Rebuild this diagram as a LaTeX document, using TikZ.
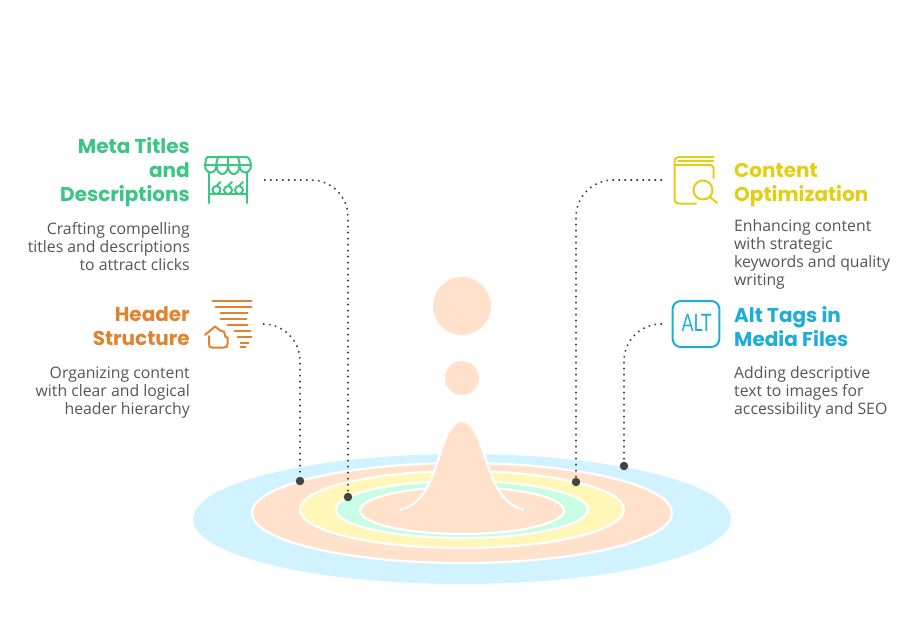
\documentclass[tikz,border=0pt]{standalone}
\usepackage{fontspec}
\setmainfont{Open Sans}
\newfontfamily\altfont{Lato}
\newfontfamily\titlefont{Poppins}[BoldFont={Poppins Bold}]
\definecolor{cgreen}{HTML}{3CC583}
\definecolor{corange}{HTML}{E0832E}
\definecolor{cyellow}{HTML}{E2CF13}
\definecolor{cblue}{HTML}{1EACDB}
\definecolor{cbody}{HTML}{555555}
\definecolor{cdot}{HTML}{444444}
\definecolor{rblue}{HTML}{D1F3FF}
\definecolor{rpeach}{HTML}{FFE1CC}
\definecolor{ryellow}{HTML}{FFF7B8}
\definecolor{rmint}{HTML}{C9FCE4}
\tikzset{
  ttl/.style={font=\titlefont\bfseries\fontsize{20}{24}\selectfont,inner sep=0pt},
  bodytxt/.style={font=\fontsize{15.8}{18}\selectfont,text=cbody,inner sep=0pt},
  ring/.style={draw=white,line width=2.2pt},
  dotend/.style={circle,fill=cdot,minimum size=8.5pt,inner sep=0pt},
  conn/.style={draw=cdot,line width=1.6pt,dash pattern=on 1.6pt off 4.4pt},
  icon/.style={line width=2pt,line cap=round,line join=round,fill=none},
}
\begin{document}
\begin{tikzpicture}[x=1pt,y=-1pt]
\useasboundingbox (0,0) rectangle (924,634);
% rings
\fill[rblue] (462,519) ellipse [x radius=269,y radius=65];
\filldraw[ring,fill=rpeach] (462,513) ellipse [x radius=210,y radius=50];
\filldraw[ring,fill=ryellow] (462,509.5) ellipse [x radius=162,y radius=38.5];
\filldraw[ring,fill=rmint] (462,509.5) ellipse [x radius=126,y radius=28.5];
\filldraw[ring,fill=rpeach] (462,510.5) ellipse [x radius=102,y radius=23.5];
% drop
\filldraw[ring,fill=rpeach] (400,510) .. controls (426,503) and (432,478) .. (442,448)
  .. controls (449,428) and (455,421) .. (462,421)
  .. controls (469,421) and (475,428) .. (482,448)
  .. controls (492,478) and (498,503) .. (524,510);
\fill[rpeach] (403,509) -- (521,509) -- (521,516) -- (403,516) -- cycle;
\node[circle,fill=rpeach,minimum size=58pt,inner sep=0pt] (big) at (462,306) {};
\node[circle,fill=rpeach,minimum size=34pt,inner sep=0pt] (small) at (462,378) {};
% connectors
\node[dotend] (d1) at (300,481) {};
\node[dotend] (d2) at (348,497) {};
\node[dotend] (d3) at (576,482) {};
\node[dotend] (d4) at (624,466) {};
\coordinate (s1) at (263,324);
\coordinate (s2) at (264,180);
\coordinate (s3) at (662,180);
\coordinate (s4) at (662,324);
\draw[conn,rounded corners=37pt] (s1) -| (d1);
\draw[conn,rounded corners=37pt] (s2) -| (d2);
\draw[conn,rounded corners=37pt] (s3) -| (d3);
\draw[conn,rounded corners=37pt] (s4) -| (d4);
% texts
\node[ttl,text=cgreen,align=right,anchor=north east] (t1) at (190,137.5) {Meta Titles\\and\\Descriptions};
\node[bodytxt,align=right,anchor=north east] (b1) at (190,222.5) {Crafting compelling\\titles and descriptions\\to attract clicks};
\node[ttl,text=corange,align=right,anchor=north east] (t2) at (190,306.5) {Header\\Structure};
\node[bodytxt,align=right,anchor=north east] (b2) at (190,367) {Organizing content\\with clear and logical\\header hierarchy};
\node[ttl,text=cyellow,align=left,anchor=north west] (t3) at (734,163.5) {Content\\Optimization};
\node[bodytxt,align=left,anchor=north west] (b3) at (734,219.5) {Enhancing content\\with strategic\\keywords and quality\\writing};
\node[ttl,text=cblue,align=left,anchor=north west] (t4) at (734,306) {Alt Tags in\\Media Files};
\node[bodytxt,align=left,anchor=north west] (b4) at (734,366.5) {Adding descriptive\\text to images for\\accessibility and SEO};
% market icon
\begin{scope}[icon,draw=cgreen]
\draw (208,157) -- (246,157) .. controls (249,157) and (250,160) .. (251,165) -- (205,165) .. controls (206,160) and (206,157) .. (208,157);
\draw (218,157) -- (216,165) (228,157) -- (228,165) (238,157) -- (240,165);
\draw (205,165) .. controls (205,175) and (216.5,175) .. (216.5,165)
  .. controls (216.5,177) and (228,177) .. (228,165)
  .. controls (228,177) and (239.5,177) .. (239.5,165)
  .. controls (239.5,175) and (251,175) .. (251,165);
\draw (209,172) -- (209,203) (247,172) -- (247,203) (209,194) -- (247,194);
\foreach \x in {216.5,228,239}{
  \draw (\x,190) circle [radius=4];
  \draw (\x,186) -- (\x+4,182);
}
\end{scope}
% header icon
\begin{scope}[icon,draw=corange]
\draw (212.5,300.7) -- (251.5,300.7) (215.5,307) -- (251.5,307) (220.5,313) -- (247.5,313) (220.5,319) -- (246.5,319)
 (227.5,325) -- (247.5,325) (234.5,331) -- (250.5,331) (237.5,337) -- (251.5,337) (240.5,343) -- (248.5,343) (240.5,347) -- (245.5,347);
\draw (205,335) -- (215,326.5) -- (221,331) -- (224,331.5) -- (225.5,337) -- (227.5,337.5) -- (227.5,344) .. controls (227.5,347) and (226,347.5) .. (224,347.5) -- (212,347.5) .. controls (210,347.5) and (209,347) .. (209,344) -- (209,336);
\end{scope}
% book icon
\begin{scope}[icon,draw=cyellow]
\draw (713.5,157) -- (678.5,157) .. controls (676,157) and (674.5,159) .. (674.5,161) -- (674.5,199) .. controls (674.5,202) and (676,203.5) .. (678.5,203.5) -- (696,203.5);
\draw (678,161) -- (713.5,161);
\draw (674.5,165) -- (710,165) .. controls (712,165) and (713.5,166.5) .. (713.5,168) -- (713.5,178);
\draw (703,190) circle [radius=9.5];
\draw (710,197) -- (717,203);
\end{scope}
% alt icon
\draw[icon,draw=cblue,rounded corners=8pt] (672.7,301) rectangle (719.3,347);
\node[font=\altfont\fontsize{24}{24}\selectfont,text=cblue,inner sep=0pt,xscale=0.74] (alt) at (696.5,323) {ALT};
\end{tikzpicture}
\end{document}
